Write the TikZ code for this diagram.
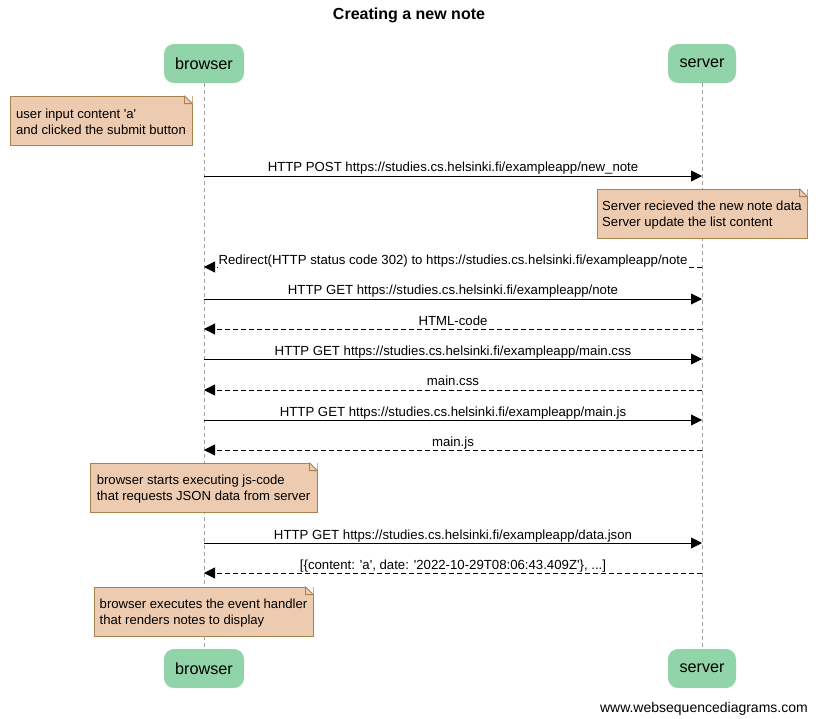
\documentclass[tikz,border=0pt]{standalone}
\usepackage{fontspec}
\setmainfont{Liberation Sans}
\usetikzlibrary{arrows.meta}
\definecolor{partgreen}{HTML}{92D4A9}
\definecolor{notefill}{HTML}{EDCBB0}
\definecolor{noteline}{HTML}{A8834E}
\definecolor{lifegray}{HTML}{A0A0A0}
\newcommand{\sq}{\textquotesingle}
\tikzset{
  participant/.style={fill=partgreen, rounded corners=10pt, minimum width=#1, minimum height=39pt, inner sep=0pt, font=\fontsize{16.2}{19}\selectfont},
  notebox/.style={fill=notefill, draw=noteline, line width=0.8pt, align=left, minimum width=#1, minimum height=49pt, inner sep=0pt, font=\fontsize{13.1}{16}\selectfont},
  lifeline/.style={draw=lifegray, dash pattern=on 4pt off 3pt, line width=0.8pt},
  msg/.style={draw=black, line width=0.9pt, -{Triangle[length=11pt,width=11pt]}},
  reply/.style={msg, dash pattern=on 5pt off 3pt},
  msglabel/.style={font=\fontsize{13.2}{15}\selectfont, fill=white, inner sep=1pt, anchor=base},
}
\newcommand{\notefold}[1]{%
  \fill[white] ([xshift=-8pt]#1.north east) -- (#1.north east) -- ([yshift=-8pt]#1.north east) -- cycle;
  \draw[noteline, line width=0.8pt] ([xshift=-8pt]#1.north east) -- ([yshift=-8pt]#1.north east)
     ([xshift=-8pt]#1.north east) -- ([xshift=-8pt,yshift=-8pt]#1.north east) -- ([yshift=-8pt]#1.north east);}
\begin{document}
\begin{tikzpicture}[x=1pt,y=-1pt]
\useasboundingbox[fill=white] (0,0) rectangle (822,718);
\node[font=\bfseries\fontsize{16}{19}\selectfont] (title) at (409,15) {Creating a new note};
% participants
\node[participant=80pt] (bt) at (204,63.5) {\raisebox{-1.5pt}{browser}};
\node[participant=68pt] (st) at (702,63.5) {\raisebox{-1.5pt}{server}};
\node[participant=80pt] (bb) at (204,668.5) {browser};
\node[participant=68pt] (sb) at (702,668.5) {server};
\draw[lifeline] (bt.south) -- (bb.north);
\draw[lifeline] (st.south) -- (sb.north);
% lifeline anchor coordinates
\foreach \n/\y in {1/176,2/267,3/299,4/329,5/359,6/390,7/420,8/450,9/543,10/573} {
  \coordinate (b\n) at (204,\y);
  \coordinate (s\n) at (702,\y);
}
% note 1
\node[notebox=182pt] (n1) at (101,120.5) {\rule{0pt}{12pt}user input content \sq a\sq\\and clicked the submit button};
\notefold{n1}
% messages
\draw[msg] (b1) -- (s1);
\node[msglabel] (l1) at (453,171) {HTTP POST https://studies.cs.helsinki.fi/exampleapp/new\_note};
\node[notebox=210pt] (n2) at (702,213.5) {\rule{0pt}{12pt}Server recieved the new note data\\Server update the list content};
\notefold{n2}
\draw[reply] (s2) -- (b2);
\node[msglabel] (l2) at (453,264) {Redirect(HTTP status code 302) to https://studies.cs.helsinki.fi/exampleapp/note};
\draw[msg] (b3) -- (s3);
\node[msglabel] (l3) at (453,294) {HTTP GET https://studies.cs.helsinki.fi/exampleapp/note};
\draw[reply] (s4) -- (b4);
\node[msglabel] (l4) at (453,325) {HTML-code};
\draw[msg] (b5) -- (s5);
\node[msglabel] (l5) at (453,355) {HTTP GET https://studies.cs.helsinki.fi/exampleapp/main.css};
\draw[reply] (s6) -- (b6);
\node[msglabel] (l6) at (453,385) {main.css};
\draw[msg] (b7) -- (s7);
\node[msglabel] (l7) at (453,416) {HTTP GET https://studies.cs.helsinki.fi/exampleapp/main.js};
\draw[reply] (s8) -- (b8);
\node[msglabel] (l8) at (453,446) {main.js};
\node[notebox=227pt] (n3) at (203.5,487.5) {\rule{0pt}{12pt}browser starts executing js-code\\that requests JSON data from server};
\notefold{n3}
\draw[msg] (b9) -- (s9);
\node[msglabel] (l9) at (453,539) {HTTP GET https://studies.cs.helsinki.fi/exampleapp/data.json};
\draw[reply] (s10) -- (b10);
\node[msglabel] (l10) at (453,569) {[\{content: \sq a\sq, date: \sq 2022-10-29T08:06:43.409Z\sq\}, ...]};
\node[notebox=219pt] (n4) at (203.5,611.5) {\rule{0pt}{12pt}browser executes the event handler\\that renders notes to display};
\notefold{n4}
\node[font=\fontsize{14}{16}\selectfont, anchor=base east, inner sep=0pt] (footer) at (808,712) {www.websequencediagrams.com};
\end{tikzpicture}
\end{document}
